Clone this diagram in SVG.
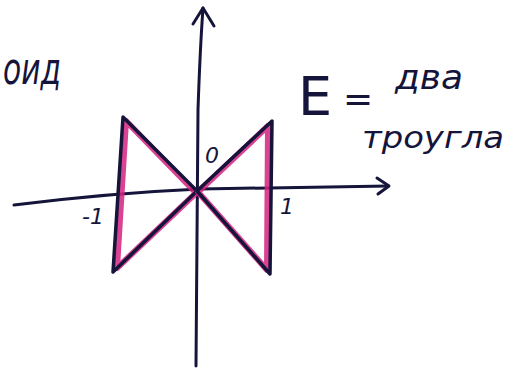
<svg xmlns="http://www.w3.org/2000/svg" width="526" height="369" viewBox="0 0 526 369">
<style>
.ax{fill:none;stroke:#15143a;stroke-width:3;stroke-linecap:round;stroke-linejoin:round}
.hl{fill:none;stroke:#d4217f;stroke-width:6;stroke-linejoin:round;stroke-linecap:round;opacity:0.85}
.ed{fill:none;stroke:#15143a;stroke-width:3.5;stroke-linejoin:round;stroke-linecap:round}
.t{font-family:"DejaVu Sans","Liberation Sans",sans-serif;fill:#15143a;font-style:italic}
</style>
<rect width="526" height="369" fill="#ffffff"/>
<g id="connectors">
<path class="ax" d="M14,205 Q110,193 200,189 L388,186"/>
<path class="ax" d="M377,178 L389,186 L378,194"/>
<path class="ax" d="M196,366 L198,110 Q200,50 203,8"/>
<path class="ax" d="M193,24 L203,8 L214,26"/>
</g>
<g id="left-triangle">
<polygon class="hl" points="126,121 196,193 117,268"/>
<polygon class="ed" points="123,117 197,191 113,272"/>
</g>
<g id="right-triangle">
<polygon class="hl" points="198,192 268,126 267,270"/>
<polygon class="ed" points="197,191 272,121 270,274"/>
</g>
<g id="labels">
<text class="t" x="205" y="163" font-size="22">0</text>
<text class="t" x="82" y="224" font-size="22">-1</text>
<text class="t" x="280" y="214" font-size="22">1</text>
<text class="t" x="3" y="84" font-size="44" textLength="58" lengthAdjust="spacingAndGlyphs">оид</text>
<text class="t" x="298" y="115" font-size="54" style="font-style:normal">E</text>
<text class="t" x="343" y="111" font-size="36" style="font-style:normal">=</text>
<text class="t" x="395" y="89" font-size="34" textLength="68" lengthAdjust="spacingAndGlyphs">два</text>
<text class="t" x="362" y="148" font-size="30" textLength="142" lengthAdjust="spacingAndGlyphs">троугла</text>
</g>
</svg>
